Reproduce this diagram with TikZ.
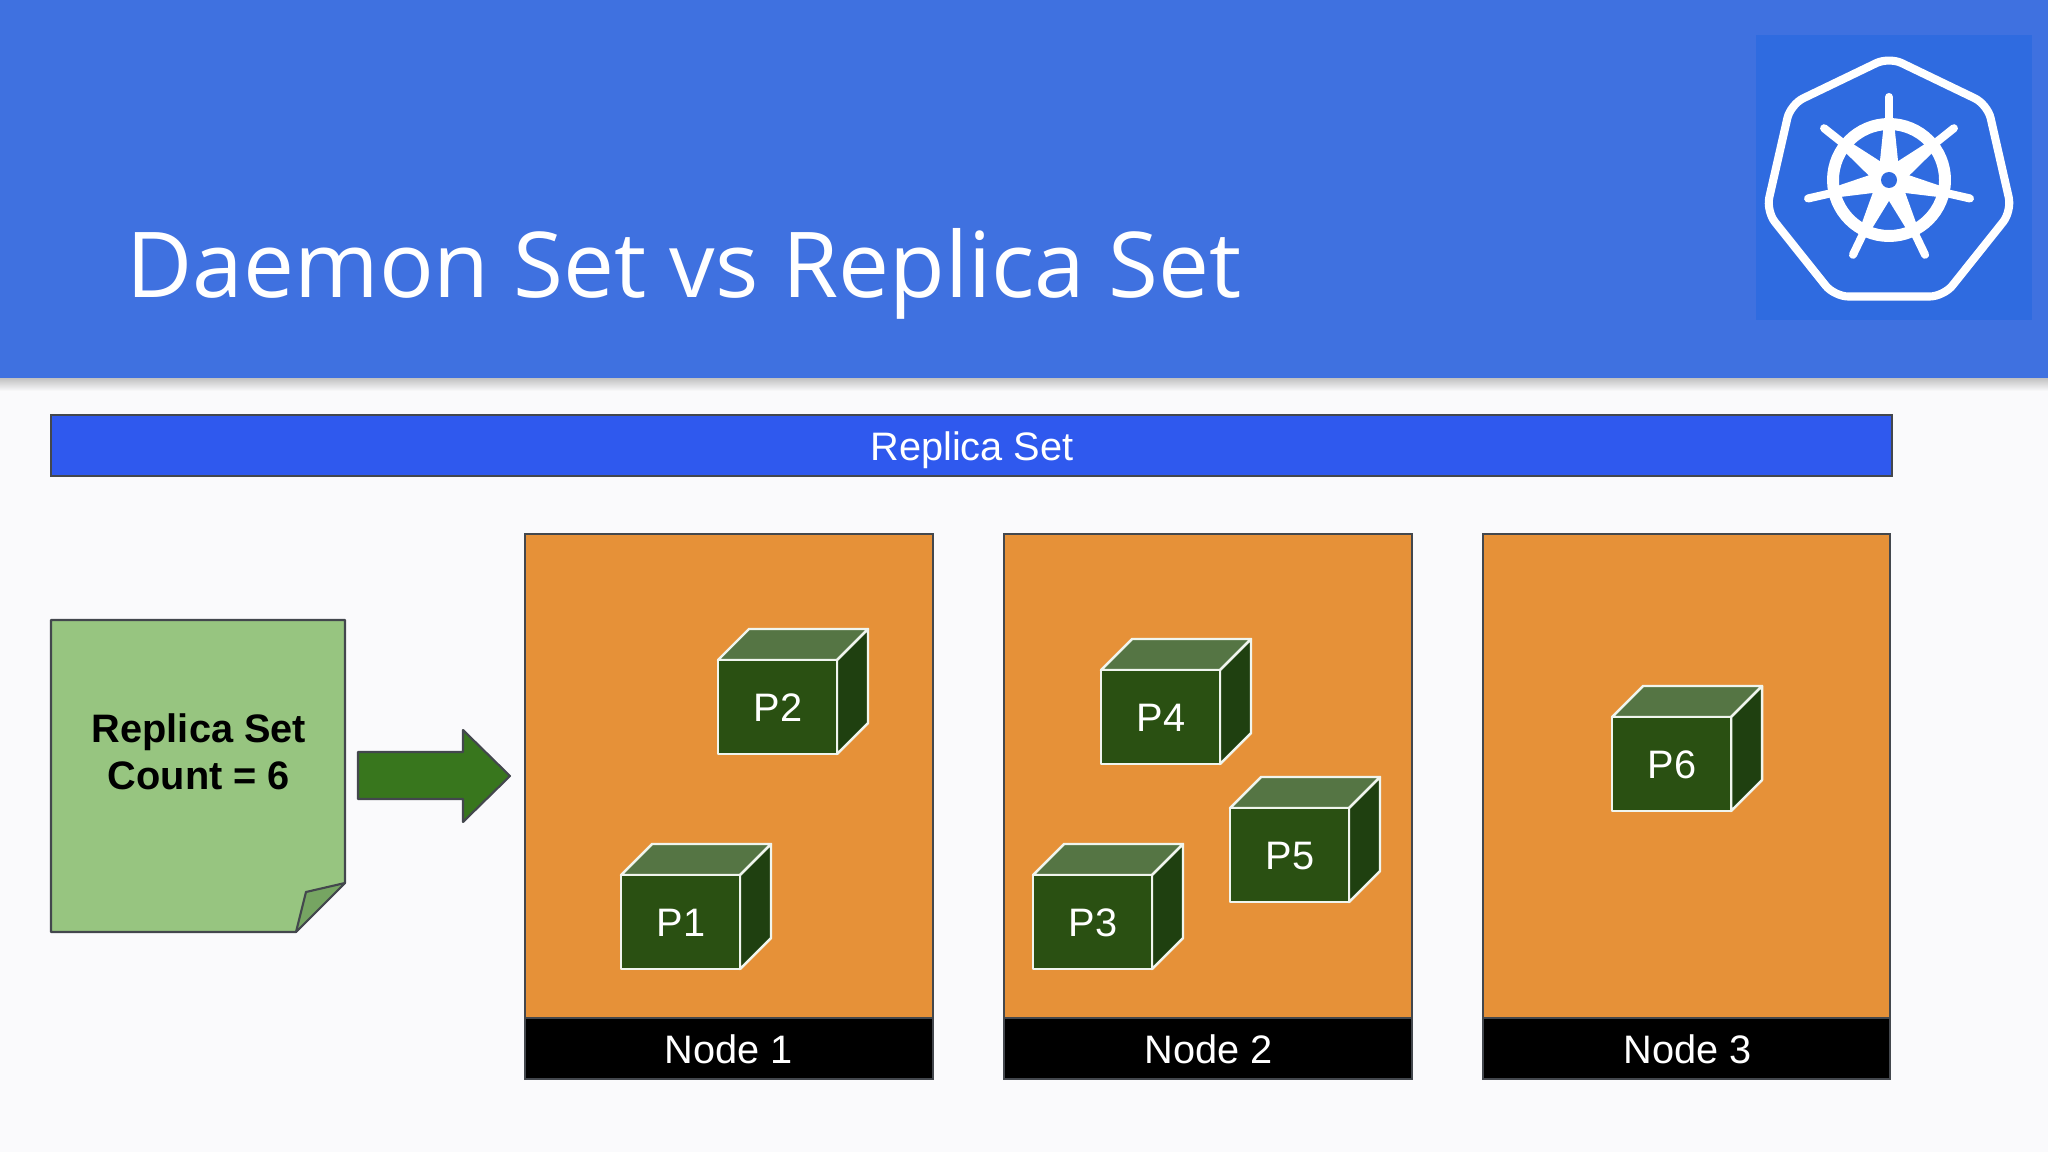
\documentclass[tikz,border=0pt]{standalone}
\usepackage{fontspec}
\setmainfont{Liberation Sans}
\newfontfamily\titlefont{Open Sans}
\definecolor{pagebg}{HTML}{FAFAFC}
\definecolor{bannerblue}{HTML}{3F71E0}
\definecolor{logoblue}{HTML}{2F6BE0}
\definecolor{barblue}{HTML}{2F59EE}
\definecolor{edgegray}{HTML}{43474D}
\definecolor{nodeorange}{HTML}{E69138}
\definecolor{notegreen}{HTML}{97C580}
\definecolor{foldgreen}{HTML}{76A562}
\definecolor{arrowgreen}{HTML}{38761D}
\definecolor{podfront}{HTML}{2A5012}
\definecolor{podtop}{HTML}{557544}
\definecolor{podside}{HTML}{1F4010}
\definecolor{podedge}{HTML}{F0F5EE}
\tikzset{
    bodytext/.style={font=\fontsize{11.3pt}{13pt}\selectfont,text=white,anchor=base,inner sep=0pt},
    boldtext/.style={font=\fontsize{11.3pt}{13pt}\selectfont\bfseries,text=black,anchor=base,inner sep=0pt},
    outline/.style={draw=edgegray,line width=0.6pt},
    podline/.style={draw=podedge,line width=0.7pt,line join=round},
    logoline/.style={draw=white,line cap=round,line join=round},
    podbox/.pic={
        \path[fill=podtop,podline] (0,0) -- (31,-31) -- (150,-31) -- (119,0) -- cycle;
        \path[fill=podside,podline] (119,0) -- (150,-31) -- (150,63) -- (119,94) -- cycle;
        \path[fill=podfront,podline] (0,0) rectangle (119,94);
        \node[bodytext] (-label) at (60,61) {#1};
    }
}
\begin{document}
\begin{tikzpicture}[x=0.01cm,y=-0.01cm]
        \useasboundingbox (0,0) rectangle (2048,1152);
        %% Page and banner
        \fill[pagebg] (0,0) rectangle (2048,1152);
        \shade[top color=black!26,bottom color=pagebg] (0,377) rectangle (2048,391);
        \fill[bannerblue] (0,0) rectangle (2048,378);
        \node[font=\titlefont\fontsize{25.85pt}{30pt}\selectfont,text=white,anchor=base west,inner sep=0pt] (title) at (126,298) {Daemon Set vs Replica Set};
        %% Logo
        \fill[logoblue] (1756,35) rectangle (2032,320);
        \begin{scope}[shift={(1889,183)}]
            \draw[logoline,line width=2.3pt,rounded corners=4pt] (-90:126) -- (-38.57:126) -- (12.86:126) -- (64.29:126) -- (115.71:126) -- (167.14:126) -- (218.57:126) -- cycle;
        \end{scope}
        \begin{scope}[shift={(1889,180)}]
            \draw[logoline,line width=3.4pt] (0,0) circle [radius=56];
            \foreach \k in {0,...,6}{
                \begin{scope}[rotate={90+\k*51.43}]
                    \fill[white] (0,-11) -- (58,-5) -- (58,5) -- (0,11) -- cycle;
                    \draw[logoline,line width=2.3pt] (0,0) -- (83,0);
                \end{scope}
            }
            \fill[white] (0,0) circle [radius=19];
            \fill[logoblue] (0,0) circle [radius=8];
        \end{scope}
        %% Replica set bar
        \path[fill=barblue,outline] (51,415) rectangle (1892,476);
        \node[bodytext] (barlabel) at (972,461) {Replica Set};
        %% Note
        \path[fill=notegreen,outline,line join=round] (51,620) -- (345,620) -- (345,883) -- (296,932) -- (51,932) -- cycle;
        \path[fill=foldgreen,outline,line join=round] (345,883) -- (306,892) -- (296,932) -- cycle;
        \node[boldtext] (notetop) at (199,742) {Replica Set};
        \node[boldtext] (notebottom) at (199,789) {Count = 6};
        %% Arrow
        \path[fill=arrowgreen,outline,line join=round] (358,752) -- (463,752) -- (463,730) -- (510,776) -- (463,822) -- (463,799) -- (358,799) -- cycle;
        %% Nodes
        \path[fill=nodeorange,outline] (525,534) rectangle (933,1018);
            \path[fill=black,outline] (525,1018) rectangle (933,1079);
            \node[bodytext] (node1) at (729,1063) {Node 1};
        \path[fill=nodeorange,outline] (1004,534) rectangle (1412,1018);
            \path[fill=black,outline] (1004,1018) rectangle (1412,1079);
            \node[bodytext] (node2) at (1209,1063) {Node 2};
        \path[fill=nodeorange,outline] (1483,534) rectangle (1890,1018);
            \path[fill=black,outline] (1483,1018) rectangle (1890,1079);
            \node[bodytext] (node3) at (1688,1063) {Node 3};
        %% Pods
        \pic (pa) at (621,875) {podbox=P1};
        \pic (pb) at (718,660) {podbox=P2};
        \pic (pc) at (1033,875) {podbox=P3};
        \pic (pd) at (1101,670) {podbox=P4};
        \pic (pe) at (1230,808) {podbox=P5};
        \pic (pf) at (1612,717) {podbox=P6};
    \end{tikzpicture}
\end{document}
